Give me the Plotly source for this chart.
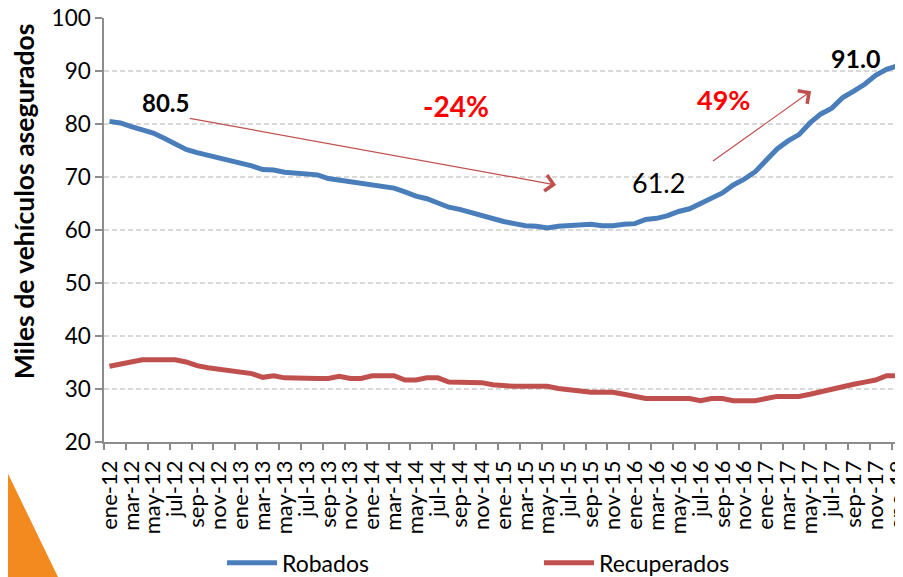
import plotly.graph_objects as go

months = ["ene", "feb", "mar", "abr", "may", "jun", "jul", "ago", "sep", "oct", "nov", "dic"]
categories = [f"{m}-{y}" for y in range(12, 18) for m in months] + ["ene-18"]

robados = [80.5, 80.2, 79.5, 78.9, 78.3, 77.3, 76.3, 75.2, 74.6, 74.1, 73.7, 73.0,
           72.5, 72.1, 71.4, 71.3, 70.9, 70.8, 70.5, 70.4, 69.7, 69.4, 69.3, 69.0,
           68.6, 68.3, 67.9, 67.2, 66.4, 65.9, 65.0, 64.3, 63.9, 63.3, 62.8, 62.0,
           61.6, 61.2, 60.8, 60.7, 60.4, 60.7, 60.8, 60.8, 61.1, 60.8, 60.8, 61.1,
           61.2, 62.0, 62.2, 62.7, 63.5, 64.0, 65.0, 66.2, 67.0, 68.5, 69.6, 71.0,
           73.3, 75.3, 76.8, 78.0, 80.2, 81.9, 83.0, 85.0, 86.2, 87.5, 89.2, 90.3,
           91.0]

recuperados = [34.3, 34.7, 35.1, 35.5, 35.5, 35.5, 35.5, 35.1, 34.4, 34.0, 33.7, 33.3,
               33.2, 32.9, 32.2, 32.5, 32.1, 32.0, 32.0, 32.0, 32.0, 32.4, 32.0, 32.0,
               32.5, 32.5, 32.5, 31.7, 31.7, 32.1, 32.1, 31.3, 31.3, 31.3, 31.2, 30.8,
               30.6, 30.5, 30.5, 30.5, 30.5, 30.1, 29.8, 29.7, 29.4, 29.4, 29.4, 29.0,
               28.6, 28.2, 28.2, 28.2, 28.2, 28.2, 27.8, 28.2, 28.2, 27.8, 27.8, 27.8,
               28.2, 28.6, 28.6, 28.6, 29.0, 29.5, 30.1, 30.5, 30.9, 31.3, 31.7, 32.5,
               32.5]

y_ticks = [20, 30, 40, 50, 60, 70, 80, 90, 100]

x_idx = list(range(len(categories)))
label_idx = x_idx[::2]
label_text = categories[::2]
boundary_ticks = [i - 0.5 for i in label_idx]

BLUE = "#4a7ebb"
RED = "#c0504d"
FONT = "Lato"

fig = go.Figure()
fig.add_trace(go.Scatter(x=x_idx, y=robados, mode="lines", name="Robados",
                         line=dict(color=BLUE, width=5)))
fig.add_trace(go.Scatter(x=x_idx, y=recuperados, mode="lines", name="Recuperados",
                         line=dict(color=RED, width=5)))

# Text annotations
texts = [
    dict(x=5.1, y=84.0, text="<b>80.5</b>", color="black", size=24),
    dict(x=31.7, y=83.4, text="<b>-24%</b>", color="#ff0000", size=28),
    dict(x=50.2, y=68.9, text="61.2", color="black", size=27),
    dict(x=56.1, y=84.7, text="<b>49%</b>", color="#ff0000", size=27),
    dict(x=68.2, y=92.5, text="<b>91.0</b>", color="black", size=25),
]
for t in texts:
    fig.add_annotation(x=t["x"], y=t["y"], xref="x", yref="y", text=t["text"],
                       showarrow=False, font=dict(family=FONT, size=t["size"], color=t["color"]))

# Arrows
arrows = [((7.2, 81.1), (40.8, 68.5)), ((55.0, 72.8), (64.1, 86.2))]
for (tx, ty), (hx, hy) in arrows:
    fig.add_annotation(x=hx, y=hy, ax=tx, ay=ty, xref="x", yref="y", axref="x", ayref="y",
                       text="", showarrow=True, arrowhead=4, arrowsize=2.6, arrowwidth=1.2,
                       arrowcolor=RED)

# Y axis title
fig.add_annotation(x=-0.1, y=0.568, xref="paper", yref="paper",
                   xanchor="center", yanchor="middle",
                   text="<b>Miles de vehículos asegurados</b>", textangle=-90,
                   showarrow=False, font=dict(family=FONT, size=26.5, color="black"))

# Orange decorative triangle (bottom-left)
fig.add_shape(type="path", xref="paper", yref="paper",
              path="M -0.1202,-0.0745 L -0.0576,-0.3184 L -0.1202,-0.3184 Z",
              fillcolor="#f28a20", line=dict(width=0), layer="above")

fig.update_layout(
    width=895, height=569,
    margin=dict(l=96, r=0, t=10, b=135, autoexpand=False),
    paper_bgcolor="white", plot_bgcolor="white",
    font=dict(family=FONT, color="black"),
    showlegend=True,
    legend=dict(orientation="h", x=0.1477, y=-0.285, xanchor="left", yanchor="middle",
                font=dict(family=FONT, size=23), entrywidth=252, entrywidthmode="pixels",
                itemwidth=50, bgcolor="rgba(0,0,0,0)"),
    xaxis=dict(range=[-0.5, 72.5], tickmode="array", tickvals=label_idx, ticktext=label_text,
               tickangle=-90, tickfont=dict(family=FONT, size=22), ticks="",
               ticklabelstandoff=8, ticklabeloverflow="allow",
               showline=True, linecolor="#8c8c8c", linewidth=1.5, showgrid=False, zeroline=False,
               minor=dict(tickmode="array", tickvals=boundary_ticks, ticks="outside",
                          ticklen=6, tickcolor="#8c8c8c", tickwidth=1.5, showgrid=False)),
    yaxis=dict(range=[20, 100], tickmode="array", tickvals=y_ticks,
               tickfont=dict(family=FONT, size=22.5), ticks="outside", ticklen=7,
               tickcolor="#8c8c8c", tickwidth=1.5, ticklabeloverflow="allow",
               showline=True, linecolor="#8c8c8c", linewidth=1.5,
               showgrid=True, gridcolor="#d9d9d9", griddash="5px,3px", gridwidth=1.5,
               zeroline=False),
)

fig.write_html("out.html")
